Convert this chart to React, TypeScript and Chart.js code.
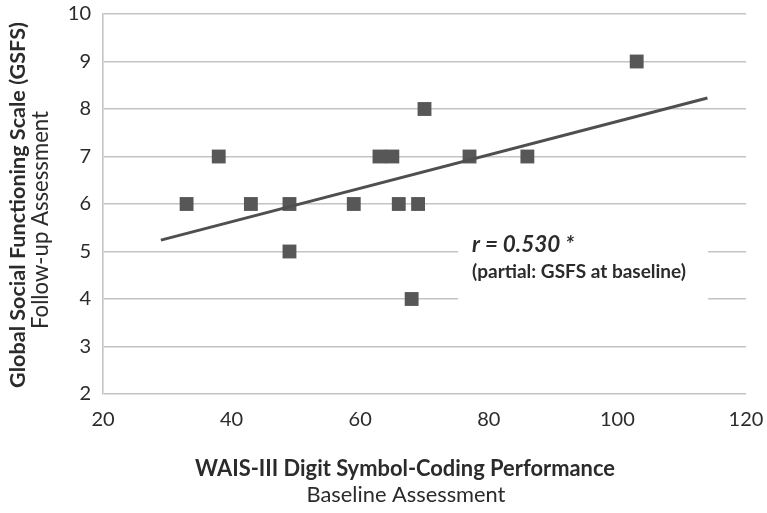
import React, { useEffect, useRef } from "react";
import { Chart, registerables } from "chart.js";

Chart.register(...registerables);

const xValues = [33, 38, 43, 49, 49, 59, 63, 65, 66, 68, 69, 70, 77, 86, 103];
const yValues = [6, 7, 6, 6, 5, 6, 7, 7, 6, 4, 6, 8, 7, 7, 9];
const trendX = [29, 114];
const trendY = [5.24, 8.23];
const xTitleLines = ["WAIS-III Digit Symbol-Coding Performance", "Baseline Assessment"];
const yTitleLines = ["Global Social Functioning Scale (GSFS)", "Follow-up Assessment"];
const annotationLines = ["r = 0.530 *", "(partial: GSFS at baseline)"];
const annotationAnchor = { x: 77.4, y: 5.15 };

const FONT = "Lato, 'Open Sans', sans-serif";
const TEXT = "#2b2b2b";

function fitFont(ctx: CanvasRenderingContext2D, text: string, style: string, target: number) {
  ctx.font = `${style} 20px ${FONT}`;
  const w = ctx.measureText(text).width;
  const size = (20 * target) / w;
  ctx.font = `${style} ${size.toFixed(2)}px ${FONT}`;
}

const titlesPlugin = {
  id: "titles",
  beforeDatasetsDraw(chart: any) {
    const { ctx, scales } = chart;
    const ax = scales.x.getPixelForValue(annotationAnchor.x);
    const ay = scales.y.getPixelForValue(annotationAnchor.y);
    ctx.save();
    ctx.fillStyle = "#ffffff";
    ctx.fillRect(ax - 14, ay - 20, 250, 90);
    ctx.restore();
  },
  afterDraw(chart: any) {
    const { ctx, scales } = chart;
    ctx.save();
    ctx.fillStyle = TEXT;
    ctx.textAlign = "center";
    ctx.textBaseline = "middle";
    // y title
    ctx.save();
    ctx.translate(18, 205);
    ctx.rotate(-Math.PI / 2);
    fitFont(ctx, yTitleLines[0], "bold", 366);
    ctx.fillText(yTitleLines[0], 0, 0);
    ctx.restore();
    ctx.save();
    ctx.translate(41, 220);
    ctx.rotate(-Math.PI / 2);
    fitFont(ctx, yTitleLines[1], "normal", 218);
    ctx.fillText(yTitleLines[1], 0, 0);
    ctx.restore();
    // x title
    fitFont(ctx, xTitleLines[0], "bold", 420);
    ctx.fillText(xTitleLines[0], 405, 469);
    fitFont(ctx, xTitleLines[1], "normal", 199);
    ctx.fillText(xTitleLines[1], 406, 495);
    // annotation
    const ax = scales.x.getPixelForValue(annotationAnchor.x);
    const ay = scales.y.getPixelForValue(annotationAnchor.y);
    ctx.textAlign = "left";
    fitFont(ctx, annotationLines[0], "italic bold", 102);
    ctx.fillText(annotationLines[0], ax, ay);
    fitFont(ctx, annotationLines[1], "bold", 214);
    ctx.fillText(annotationLines[1], ax, ay + 27);
    ctx.restore();
  },
};

export default function App() {
  const ref = useRef<HTMLCanvasElement>(null);
  useEffect(() => {
    document.body.style.margin = "0";
    const canvas = ref.current!;
    const chart = new Chart(canvas, {
      type: "scatter",
      data: {
        datasets: [
          {
            type: "line",
            data: trendX.map((x, i) => ({ x, y: trendY[i] })),
            borderColor: "#4f4f4f",
            borderWidth: 3,
            pointRadius: 0,
            fill: false,
          } as any,
          {
            data: xValues.map((x, i) => ({ x, y: yValues[i] })),
            pointStyle: "rect",
            pointRadius: 9.8,
            backgroundColor: "#575757",
            borderColor: "#575757",
            borderWidth: 0,
          },
        ],
      },
      options: {
        responsive: false,
        animation: false,
        events: [],
        layout: { padding: { left: 0, right: 21, top: 14, bottom: 0 } },
        plugins: {
          legend: { display: false },
          tooltip: { enabled: false },
        },
        scales: {
          x: {
            type: "linear",
            min: 20,
            max: 120,
            afterFit: (s: any) => {
              s.height = 119;
              s.paddingLeft = 0;
              s.paddingRight = 0;
            },
            ticks: {
              stepSize: 20,
              padding: 14,
              color: TEXT,
              font: { family: FONT, size: 20 },
              maxRotation: 0,
            },
            grid: { display: false, drawTicks: false },
            border: { display: false },
          },
          y: {
            type: "linear",
            min: 2,
            max: 10,
            afterFit: (s: any) => {
              s.width = 103;
              s.paddingTop = 0;
              s.paddingBottom = 0;
            },
            ticks: {
              stepSize: 1,
              padding: 12,
              color: TEXT,
              font: { family: FONT, size: 20 },
            },
            grid: { color: "#c4c4c4", lineWidth: 1.6, drawTicks: false },
            border: { display: true, color: "#c4c4c4", width: 1.6 },
          },
        },
      },
      plugins: [titlesPlugin],
    });
    return () => chart.destroy();
  }, []);
  return <canvas ref={ref} width={767} height={513} style={{ display: "block" }} />;
}
